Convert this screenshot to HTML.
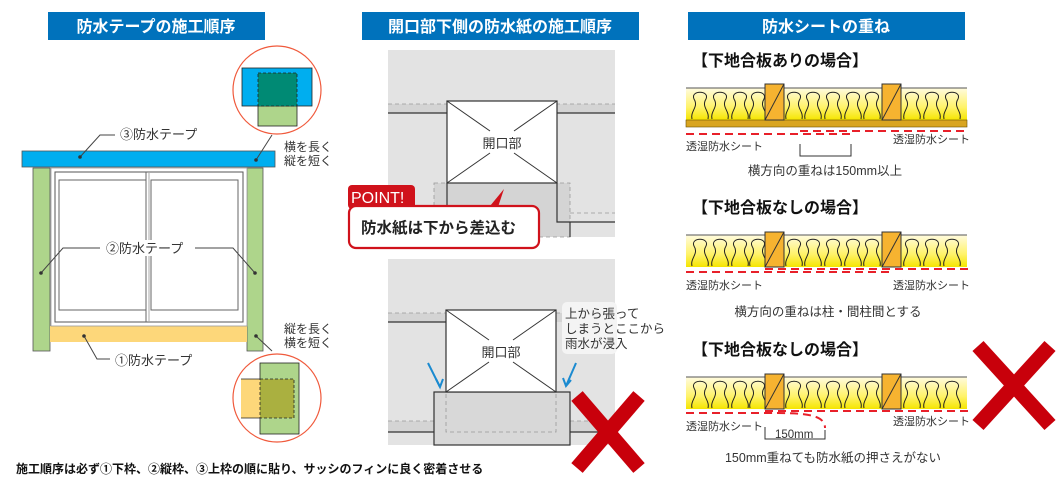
<!DOCTYPE html>
<html><head><meta charset="utf-8"><style>
html,body{margin:0;padding:0;background:#fff;}
svg{display:block;font-family:"Liberation Sans","Noto Sans CJK JP",sans-serif;}
</style></head><body>
<svg width="1061" height="497" viewBox="0 0 1061 497" xmlns="http://www.w3.org/2000/svg">
<defs>
<linearGradient id="ins" x1="0" y1="0" x2="0" y2="1"><stop offset="0" stop-color="#fffbe0"/><stop offset="0.6" stop-color="#fff36a"/><stop offset="1" stop-color="#f5e500"/></linearGradient>
<g id="coil"><path d="M-8 30 C-10 22,-1 18,-6 10 C-10 1,10 1,6 10 C1 18,10 22,8 30" fill="none" stroke="#222" stroke-width="1"/></g>
</defs>

<!-- LEFT PANEL -->
<rect x="48" y="12" width="217" height="28" fill="#0072bc"/>
<text x="156" y="32" fill="#fff" font-size="16" font-weight="bold" text-anchor="middle">防水テープの施工順序</text>
<rect x="22" y="151" width="253" height="16" fill="#00aeef" stroke="#555" stroke-width="0.8"/>
<rect x="33" y="168" width="17" height="183" fill="#aed58b" stroke="#555" stroke-width="0.8"/>
<rect x="247" y="168" width="16" height="183" fill="#aed58b" stroke="#555" stroke-width="0.8"/>
<rect x="50" y="326" width="197" height="16" fill="#fdd77a"/>
<rect x="51" y="168" width="196" height="158" fill="#fff" stroke="#999" stroke-width="0.8"/>
<rect x="55" y="172" width="188" height="150" fill="#fff" stroke="#555" stroke-width="1"/>
<rect x="59" y="180" width="87" height="130" fill="#fff" stroke="#666" stroke-width="1"/>
<rect x="151" y="180" width="87" height="130" fill="#fff" stroke="#666" stroke-width="1"/>
<line x1="146" y1="172" x2="146" y2="322" stroke="#666"/><line x1="149" y1="172" x2="149" y2="322" stroke="#aaa"/>
<rect x="100" y="240" width="100" height="16" fill="#fff"/>
<g fill="none" stroke="#444" stroke-width="1">
<polyline points="80,157 100,135 115,135"/>
<polyline points="41,273 63,248 100,248"/><polyline points="195,248 233,248 255,273"/>
<polyline points="84,336 97,359 110,359"/>
<line x1="256" y1="160" x2="272" y2="135"/><line x1="256" y1="336" x2="272" y2="351"/>
</g>
<g fill="#333"><circle cx="80" cy="157" r="1.8"/><circle cx="41" cy="273" r="1.8"/><circle cx="255" cy="273" r="1.8"/><circle cx="84" cy="336" r="1.8"/><circle cx="256" cy="160" r="1.8"/><circle cx="256" cy="336" r="1.8"/></g>
<g font-size="13" fill="#333">
<text x="120" y="139">③防水テープ</text>
<text x="106" y="253">②防水テープ</text>
<text x="115" y="365">①防水テープ</text>
<text x="284" y="151" font-size="12">横を長く</text><text x="284" y="165" font-size="12">縦を短く</text>
<text x="284" y="333" font-size="12">縦を長く</text><text x="284" y="347" font-size="12">横を短く</text>
</g>
<circle cx="277" cy="90" r="44" fill="#fff" stroke="#f05a3c" stroke-width="1.2"/>
<rect x="242" y="68" width="70" height="38" fill="#00aeef" stroke="#222" stroke-width="0.8"/>
<rect x="258" y="106" width="39" height="20" fill="#aed58b" stroke="#222" stroke-width="0.8"/>
<rect x="258" y="73" width="39" height="33" fill="#008a74" stroke="#222" stroke-width="0.8" stroke-dasharray="3,2"/>
<circle cx="277" cy="398" r="44" fill="#fff" stroke="#f05a3c" stroke-width="1.2"/>
<rect x="260" y="363" width="39" height="71" fill="#aed58b" stroke="#222" stroke-width="0.8"/>
<rect x="241" y="379" width="19" height="39" fill="#fdd77a"/>
<line x1="241" y1="379" x2="260" y2="379" stroke="#222" stroke-width="0.8"/><line x1="241" y1="418" x2="260" y2="418" stroke="#222" stroke-width="0.8"/>
<rect x="260" y="379" width="34" height="39" fill="#aab040" stroke="#222" stroke-width="0.8" stroke-dasharray="3,2"/>
<text x="16" y="473" font-size="12" font-weight="bold" fill="#111">施工順序は必ず①下枠、②縦枠、③上枠の順に貼り、サッシのフィンに良く密着させる</text>

<!-- MIDDLE PANEL -->
<rect x="362" y="12" width="277" height="28" fill="#0072bc"/>
<text x="500" y="32" fill="#fff" font-size="16" font-weight="bold" text-anchor="middle">開口部下側の防水紙の施工順序</text>
<rect x="388" y="50" width="227" height="187" fill="#e3e3e3"/>
<rect x="388" y="104" width="227" height="9" fill="#d4d4d4"/>
<line x1="388" y1="104" x2="615" y2="104" stroke="#999" stroke-dasharray="4,3" stroke-width="0.8"/>
<line x1="388" y1="113" x2="447" y2="113" stroke="#333" stroke-width="1.2"/><line x1="557" y1="113" x2="615" y2="113" stroke="#333" stroke-width="1.2"/>
<rect x="434" y="183" width="136" height="54" fill="#d4d4d4" stroke="#999" stroke-dasharray="4,3" stroke-width="0.8"/>
<line x1="570" y1="213" x2="615" y2="213" stroke="#999" stroke-dasharray="4,3" stroke-width="0.8"/>
<polyline points="447,183 447,237" stroke="#333" fill="none" stroke-width="1.2"/>
<polyline points="557,183 557,222 615,222" stroke="#333" fill="none" stroke-width="1.2"/>
<line x1="570" y1="222" x2="570" y2="237" stroke="#333" stroke-width="1.2"/>
<rect x="447" y="101" width="110" height="82" fill="#fff" stroke="#333" stroke-width="1.2"/>
<g stroke="#333" stroke-width="1"><line x1="447" y1="101" x2="490" y2="131"/><line x1="557" y1="101" x2="514" y2="131"/><line x1="447" y1="183" x2="490" y2="153"/><line x1="557" y1="183" x2="514" y2="153"/></g>
<text x="502" y="148" font-size="13" fill="#333" text-anchor="middle">開口部</text>
<rect x="348" y="185" width="67" height="24" rx="4" fill="#d0121b"/>
<text x="351" y="203" font-size="16" fill="#fff">POINT!</text>
<rect x="349" y="206" width="190" height="42" rx="7" fill="#fff" stroke="#d0121b" stroke-width="2.2"/>
<path d="M490,206 L504,189 L498,207 Z" fill="#d0121b"/>
<text x="361" y="233" font-size="15.5" font-weight="bold" fill="#222">防水紙は下から差込む</text>

<rect x="388" y="259" width="227" height="186" fill="#e3e3e3"/>
<rect x="388" y="313" width="227" height="9" fill="#d4d4d4"/>
<line x1="388" y1="313" x2="615" y2="313" stroke="#999" stroke-dasharray="4,3" stroke-width="0.8"/>
<line x1="388" y1="322" x2="446" y2="322" stroke="#333" stroke-width="1.2"/>
<rect x="388" y="421" width="227" height="11" fill="#d4d4d4"/>
<line x1="388" y1="421" x2="615" y2="421" stroke="#999" stroke-dasharray="4,3" stroke-width="0.8"/>
<line x1="388" y1="432" x2="615" y2="432" stroke="#333" stroke-width="1.2"/>
<rect x="434" y="392" width="136" height="53" fill="#d8d8d8" stroke="#333" stroke-width="1.2"/>
<rect x="446" y="392" width="110" height="40" fill="none" stroke="#999" stroke-dasharray="4,3" stroke-width="0.8"/>
<rect x="446" y="310" width="110" height="82" fill="#fff" stroke="#333" stroke-width="1.2"/>
<g stroke="#333" stroke-width="1"><line x1="446" y1="310" x2="489" y2="340"/><line x1="556" y1="310" x2="513" y2="340"/><line x1="446" y1="392" x2="489" y2="362"/><line x1="556" y1="392" x2="513" y2="362"/></g>
<text x="501" y="357" font-size="13" fill="#333" text-anchor="middle">開口部</text>
<rect x="562" y="302" width="55" height="52" rx="5" fill="#f4f4f4"/>
<g font-size="12.5" fill="#333"><text x="565" y="318">上から張って</text><text x="565" y="333">しまうとここから</text><text x="565" y="348">雨水が浸入</text></g>
<g stroke="#1a8ad0" stroke-width="2" fill="none"><line x1="428" y1="363" x2="440" y2="387"/><polyline points="436,379 440,387 443,379"/><line x1="576" y1="363" x2="566" y2="386"/><polyline points="563,378 566,386 571,380"/></g>
<g stroke="#c8000b" stroke-width="15"><line x1="577" y1="396" x2="639" y2="468"/><line x1="639" y1="396" x2="577" y2="468"/></g>

<!-- RIGHT PANEL -->
<rect x="688" y="12" width="277" height="28" fill="#0072bc"/>
<text x="826" y="32" fill="#fff" font-size="16" font-weight="bold" text-anchor="middle">防水シートの重ね</text>

<rect x="686" y="88" width="281" height="32" fill="url(#ins)"/>
<line x1="686" y1="88" x2="967" y2="88" stroke="#555"/>
<g font-size="16" font-weight="bold" fill="#111">
<text x="692" y="66">【下地合板ありの場合】</text>
<text x="692" y="213">【下地合板なしの場合】</text>
<text x="692" y="355">【下地合板なしの場合】</text>
</g>
<rect x="686" y="235" width="281" height="32" fill="url(#ins)"/><line x1="686" y1="235" x2="967" y2="235" stroke="#555"/>
<rect x="686" y="377" width="281" height="32" fill="url(#ins)"/><line x1="686" y1="377" x2="967" y2="377" stroke="#555"/>
<g>
<use href="#coil" x="700" y="89"/><use href="#coil" x="720" y="89"/><use href="#coil" x="740" y="89"/><use href="#coil" x="758" y="89"/>
<use href="#coil" x="794" y="89"/><use href="#coil" x="813" y="89"/><use href="#coil" x="833" y="89"/><use href="#coil" x="853" y="89"/><use href="#coil" x="872" y="89"/>
<use href="#coil" x="912" y="89"/><use href="#coil" x="932" y="89"/><use href="#coil" x="952" y="89"/>
<use href="#coil" x="700" y="236"/><use href="#coil" x="720" y="236"/><use href="#coil" x="740" y="236"/><use href="#coil" x="758" y="236"/>
<use href="#coil" x="794" y="236"/><use href="#coil" x="813" y="236"/><use href="#coil" x="833" y="236"/><use href="#coil" x="853" y="236"/><use href="#coil" x="872" y="236"/>
<use href="#coil" x="912" y="236"/><use href="#coil" x="932" y="236"/><use href="#coil" x="952" y="236"/>
<use href="#coil" x="700" y="378"/><use href="#coil" x="720" y="378"/><use href="#coil" x="740" y="378"/><use href="#coil" x="758" y="378"/>
<use href="#coil" x="794" y="378"/><use href="#coil" x="813" y="378"/><use href="#coil" x="833" y="378"/><use href="#coil" x="853" y="378"/><use href="#coil" x="872" y="378"/>
<use href="#coil" x="912" y="378"/><use href="#coil" x="932" y="378"/><use href="#coil" x="952" y="378"/>
</g>
<rect x="686" y="120" width="281" height="7" fill="#d9a520" stroke="#6b5000" stroke-width="0.6"/>
<g fill="#f6b330" stroke="#333" stroke-width="1">
<rect x="765" y="84" width="19" height="36"/><rect x="882" y="84" width="19" height="36"/>
<rect x="765" y="232" width="19" height="35"/><rect x="882" y="232" width="19" height="35"/>
<rect x="765" y="374" width="19" height="35"/><rect x="882" y="374" width="19" height="35"/>
</g>
<g stroke="#333" stroke-width="1"><line x1="765" y1="120" x2="784" y2="84"/><line x1="882" y1="120" x2="901" y2="84"/><line x1="765" y1="267" x2="784" y2="232"/><line x1="882" y1="267" x2="901" y2="232"/><line x1="765" y1="409" x2="784" y2="374"/><line x1="882" y1="409" x2="901" y2="374"/></g>
<g stroke="#e8202a" stroke-width="2" stroke-dasharray="8,5" fill="none">
<line x1="686" y1="134" x2="852" y2="134"/><line x1="800" y1="131" x2="968" y2="131"/>
<line x1="686" y1="272" x2="894" y2="272"/><line x1="765" y1="269" x2="968" y2="269"/>
<line x1="765" y1="411" x2="968" y2="411"/><path d="M686,413 L765,413 C800,413 825,413 825,428"/>
</g>
<g fill="#333" font-size="11">
<text x="686" y="150">透湿防水シート</text><text x="893" y="143">透湿防水シート</text>
<text x="686" y="289">透湿防水シート</text><text x="893" y="289">透湿防水シート</text>
<text x="686" y="430">透湿防水シート</text><text x="893" y="425">透湿防水シート</text>
</g>
<polyline points="800,144 800,156 851,156 851,144" fill="none" stroke="#333"/>
<polyline points="765,427 765,439 825,439 825,430" fill="none" stroke="#333"/>
<text x="775" y="438" font-size="11.5" fill="#333">150mm</text>
<g font-size="12.5" fill="#333" text-anchor="middle">
<text x="825" y="175">横方向の重ねは150mm以上</text>
<text x="828" y="316">横方向の重ねは柱・間柱間とする</text>
<text x="833" y="462">150mm重ねても防水紙の押さえがない</text>
</g>
<g stroke="#c8000b" stroke-width="15"><line x1="978" y1="346" x2="1050" y2="425"/><line x1="1050" y1="346" x2="978" y2="425"/></g>
</svg>
</body></html>
